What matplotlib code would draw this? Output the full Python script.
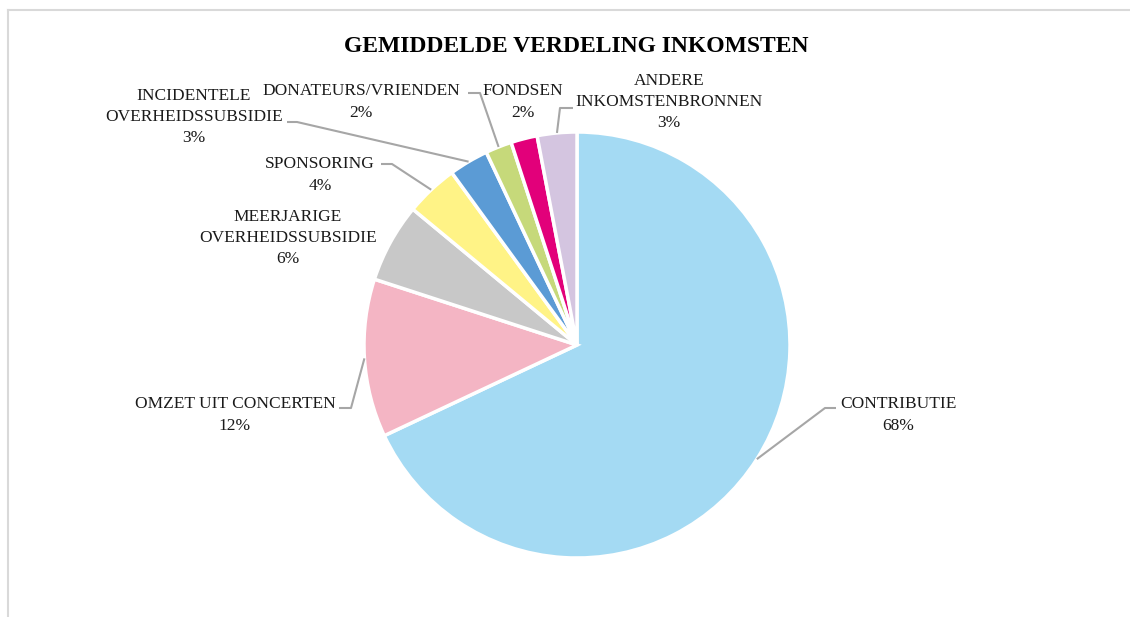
import numpy as np
import matplotlib
matplotlib.use("Agg")
import matplotlib.pyplot as plt
from matplotlib.lines import Line2D

# data
labels = ["CONTRIBUTIE", "OMZET UIT CONCERTEN", "MEERJARIGE\nOVERHEIDSSUBSIDIE",
          "SPONSORING", "INCIDENTELE\nOVERHEIDSSUBSIDIE", "DONATEURS/VRIENDEN",
          "FONDSEN", "ANDERE\nINKOMSTENBRONNEN"]
values = [68, 12, 6, 4, 3, 2, 2, 3]
colors = ["#A4DAF3", "#F4B5C4", "#C8C8C8", "#FFF386", "#5B9BD5", "#C6D97A",
          "#E2007A", "#D4C5E0"]

W, H = 1130, 617
fig = plt.figure(figsize=(W / 100, H / 100), dpi=100)
ax = fig.add_axes([0, 0, 1, 1])
ax.set_aspect("equal")

def py(y):
    # pixel row -> data y
    return H - y

cx, cy, r = 577, py(345), 213
wedges, _ = ax.pie(values, colors=colors, startangle=90, counterclock=False,
                   center=(cx, cy), radius=r, frame=True,
                   wedgeprops=dict(edgecolor="white", linewidth=2.5))
ax.set_xlim(0, W)
ax.set_ylim(0, H)
ax.axis("off")

# label layout: text centre, and (attach, elbow) for the leader line or None
layout = [
    ((898, 415), ((836, 408), (825, 408))),
    ((235, 415), ((339, 408), (351, 408))),
    ((288, 238), None),
    ((320, 175), ((381, 164), (392, 164))),
    ((194, 117), ((287, 122), (297, 122))),
    ((361, 102), ((468, 93), (480, 93))),
    ((523, 102), None),
    ((669, 102), ((573, 108), (560, 108))),
]

font = "Liberation Serif"
for w, lab, v, (tpos, lead) in zip(wedges, labels, values, layout):
    ax.text(tpos[0], py(tpos[1]), lab + "\n" + "%d%%" % v, ha="center", va="center",
            fontsize=12.5, family=font, color="#1a1a1a", linespacing=1.42)
    if lead is not None:
        mid = np.deg2rad((w.theta1 + w.theta2) / 2)
        ex = cx + r * np.cos(mid)
        ey = cy + r * np.sin(mid)
        (ax1, ay1), (ex1, ey1) = lead
        ax.plot([ax1, ex1, ex], [py(ay1), py(ey1), ey], color="#A6A6A6",
                lw=1.5, solid_capstyle="butt")

ax.text(576, py(47), "GEMIDDELDE VERDELING INKOMSTEN", ha="center", va="center",
        fontsize=17, fontweight="bold", family=font, color="black")

# chart border (top and left visible)
fig.add_artist(Line2D([8 / W, 1], [1 - 10 / H, 1 - 10 / H], color="#D9D9D9", lw=1.5))
fig.add_artist(Line2D([8 / W, 8 / W], [0, 1 - 10 / H], color="#D9D9D9", lw=1.5))

fig.savefig("out.png", dpi=100, facecolor="white")
